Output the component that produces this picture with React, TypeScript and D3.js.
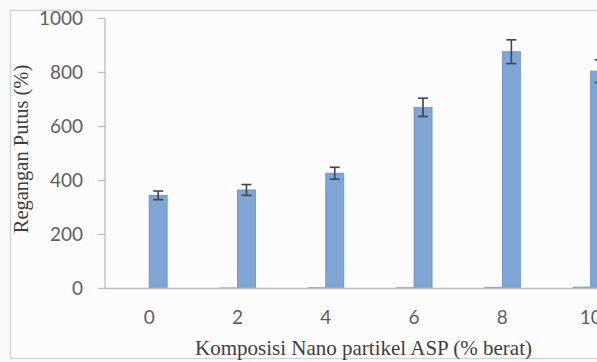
import React from "react";
import * as d3 from "d3";

// Elongation at break vs. nano-particle ASP composition
const categories = ["0", "2", "4", "6", "8", "10"];
const seriesNames = ["kontrol", "regangan"];
const baseValues = [0, 4, 5, 5, 6, 7];
const strainValues = [345, 365, 427, 671, 877, 805];
const strainErrors = [16, 20, 22, 34, 44, 42];
const yTicks = [0, 200, 400, 600, 800, 1000];

const W = 597;
const H = 362;
const plotLeft = 105;
const plotTop = 18.5;
const plotBottom = 288.5;
const step = 88.3;

export default function App() {
  const x0 = d3
    .scaleBand<string>()
    .domain(categories)
    .range([plotLeft, plotLeft + step * categories.length])
    .paddingInner(1 - 36 / step)
    .paddingOuter((1 - 36 / step) / 2);
  const x1 = d3
    .scaleBand<string>()
    .domain(seriesNames)
    .range([0, x0.bandwidth()]);
  const y = d3.scaleLinear().domain([0, 1000]).range([plotBottom, plotTop]);

  const barFill = "#7ea5d5";
  const barStroke = "#638fc6";
  const tickFont = "Lato, 'Open Sans', sans-serif";
  const titleFont = "'Liberation Serif', 'DejaVu Serif', serif";

  return (
    <svg
      width={W}
      height={H}
      style={{ position: "absolute", left: 0, top: 0, display: "block" }}
    >
      <rect x={0} y={0} width={W} height={H} fill="#f7faf8" />
      <rect
        x={10.5}
        y={10.5}
        width={W + 20}
        height={348}
        fill="#fbfcfb"
        stroke="#cfd2d0"
        strokeWidth={1.2}
      />

      {/* y axis */}
      <line
        x1={plotLeft}
        x2={plotLeft}
        y1={y(1000)}
        y2={y(0)}
        stroke="#bdbdbd"
        strokeWidth={1.3}
      />
      {yTicks.map((t) => (
        <g key={t}>
          <line
            x1={plotLeft - 7}
            x2={plotLeft}
            y1={y(t)}
            y2={y(t)}
            stroke="#bdbdbd"
            strokeWidth={1.3}
          />
          <text
            x={83}
            y={y(t)}
            dy="0.36em"
            textAnchor="end"
            fontFamily={tickFont}
            fontSize={19}
            fill="#5f5f5f"
          >
            {t}
          </text>
        </g>
      ))}

      {/* bars */}
      {categories.map((c, i) => {
        const gx = x0(c) as number;
        const bx0 = gx + (x1("kontrol") as number);
        const bx1 = gx + (x1("regangan") as number);
        const bw = x1.bandwidth();
        const cx = bx1 + bw / 2;
        const v = strainValues[i];
        const e = strainErrors[i];
        return (
          <g key={c}>
            {baseValues[i] > 0 && (
              <rect
                x={bx0}
                y={y(baseValues[i])}
                width={bw}
                height={y(0) - y(baseValues[i])}
                fill={barFill}
              />
            )}
            <rect
              x={bx1}
              y={y(v)}
              width={bw}
              height={y(0) - y(v)}
              fill={barFill}
              stroke={barStroke}
              strokeWidth={0.8}
            />
            <g stroke="#454545" strokeWidth={1.6}>
              <line x1={cx} x2={cx} y1={y(v + e)} y2={y(v - e)} />
              <line x1={cx - 5} x2={cx + 5} y1={y(v + e)} y2={y(v + e)} />
              <line x1={cx - 5} x2={cx + 5} y1={y(v - e)} y2={y(v - e)} />
            </g>
            <text
              x={bx1}
              y={324}
              textAnchor="middle"
              fontFamily={tickFont}
              fontSize={19}
              fill="#5f5f5f"
            >
              {c}
            </text>
          </g>
        );
      })}

      {/* x axis */}
      <line
        x1={plotLeft}
        x2={plotLeft + step * categories.length}
        y1={y(0)}
        y2={y(0)}
        stroke="#bdbdbd"
        strokeWidth={1.3}
      />

      <text
        x={363.5}
        y={355}
        textAnchor="middle"
        fontFamily={titleFont}
        fontSize={21}
        fill="#3f3f3f"
      >
        Komposisi Nano partikel ASP (% berat)
      </text>
      <text
        transform={`translate(27.5, 149) rotate(-90)`}
        textAnchor="middle"
        fontFamily={titleFont}
        fontSize={20.5}
        fill="#3f3f3f"
      >
        Regangan Putus (%)
      </text>
    </svg>
  );
}
